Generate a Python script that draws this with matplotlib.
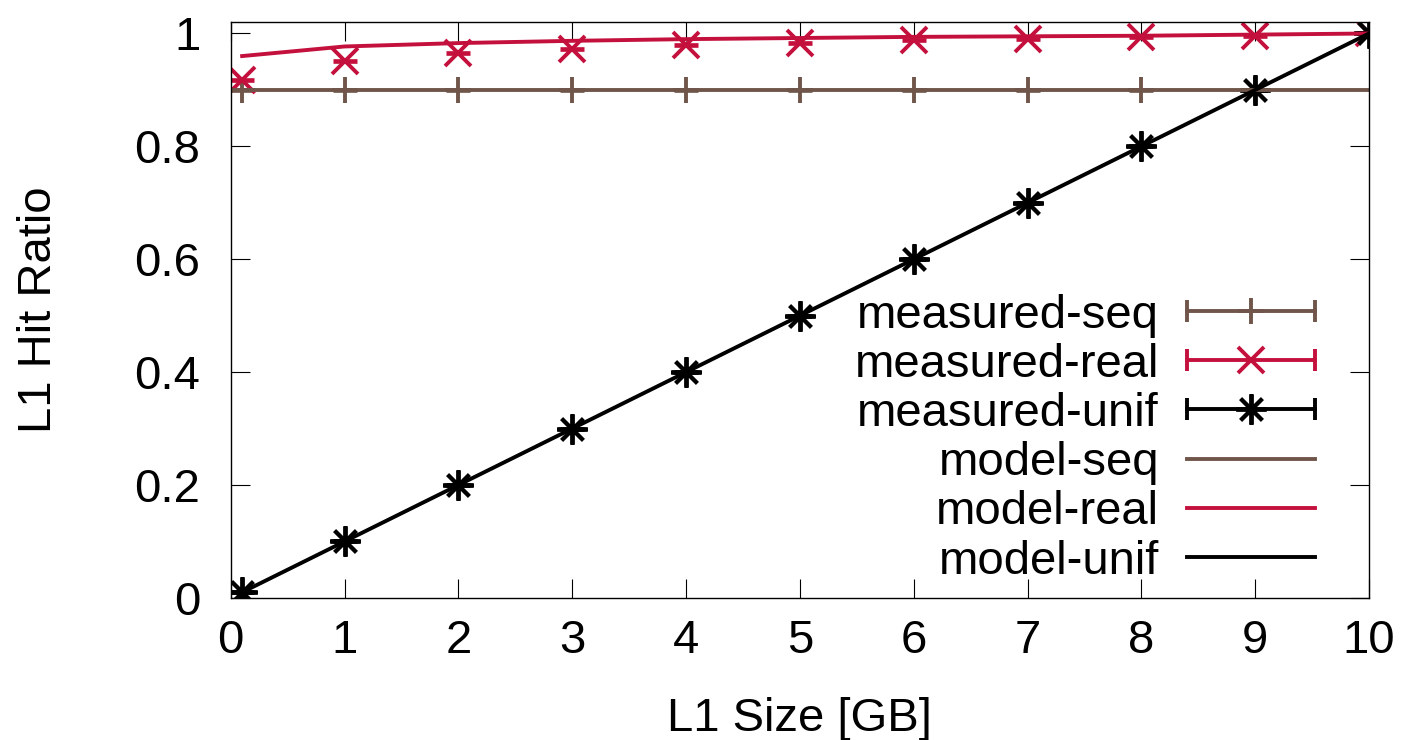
import matplotlib
matplotlib.use("Agg")
import matplotlib.pyplot as plt
from matplotlib.lines import Line2D
from matplotlib.legend_handler import HandlerLine2D, HandlerTuple

plt.rcParams['font.family'] = ['Liberation Sans', 'DejaVu Sans']

brown = '#70564a'
red = '#c4103c'
black = '#000000'

# L1 size [GB]
sizes = [0.1, 1, 2, 3, 4, 5, 6, 7, 8, 9, 10]

measured_seq = [0.9, 0.9, 0.9, 0.9, 0.9, 0.9, 0.9, 0.9, 0.9, 0.9]
measured_real = [0.917, 0.952, 0.966, 0.973, 0.979, 0.984, 0.989, 0.991, 0.994, 0.995, 1.0]
measured_unif = [0.01, 0.1, 0.2, 0.3, 0.4, 0.5, 0.6, 0.7, 0.8, 0.9, 1.0]

model_seq_x = [0, 10]
model_seq = [0.9, 0.9]
model_real = [0.960, 0.977, 0.983, 0.987, 0.990, 0.992, 0.994, 0.995, 0.996, 0.998, 1.0]
model_unif = [0.01, 0.1, 0.2, 0.3, 0.4, 0.5, 0.6, 0.7, 0.8, 0.9, 1.0]

fig = plt.figure(figsize=(14.07, 7.4), dpi=100)
ax = fig.add_axes([0.164, 0.192, 0.809, 0.778])

fs = 34
lw = 2.8
ms = 19
capw = 17

def measured(xs, ys, c, m, size):
    # zero-height error bar: a horizontal cap under the point marker
    ax.plot(xs, ys, ls='none', marker='_', ms=capw, mew=lw * 1.2, color=c)
    ax.plot(xs, ys, ls='none', marker=m, ms=size, mew=lw, color=c)

measured(sizes[:len(measured_seq)], measured_seq, brown, '+', ms)
measured(sizes, measured_real, red, 'x', ms)
measured(sizes, measured_unif, black, (8, 2, 0), ms + 3)

ax.plot(model_seq_x, model_seq, color=brown, lw=lw)
ax.plot(sizes, model_real, color=red, lw=lw)
ax.plot(sizes, model_unif, color=black, lw=lw)

ax.set_xlim(0, 10)
ax.set_ylim(0, 1.02)
ax.set_xticks(range(0, 11))
ax.set_yticks([0, 0.2, 0.4, 0.6, 0.8, 1])
ax.set_yticklabels(['0', '0.2', '0.4', '0.6', '0.8', '1'])
ax.tick_params(direction='in', length=14, width=0.8, top=True, right=True,
               labelsize=fs)
ax.tick_params(axis='y', pad=22)
ax.tick_params(axis='x', pad=15)
for s in ax.spines.values():
    s.set_linewidth(1.0)

ax.set_xlabel('L1 Size [GB]', fontsize=fs, labelpad=25)
ax.set_ylabel('L1 Hit Ratio', fontsize=fs, labelpad=53)

# legend handles, gnuplot style: line with end caps and marker in the middle
handles = []
hmap = {}
for c, m, s in [(brown, '+', ms), (red, 'x', ms), (black, (8, 2, 0), ms + 3)]:
    caps = Line2D([], [], color=c, lw=lw, marker='|', ms=16, mew=lw)
    mid = Line2D([], [], color=c, ls='none', marker=m, ms=s, mew=lw)
    hmap[caps] = HandlerLine2D(numpoints=2, marker_pad=0)
    handles.append((caps, mid))
for c in [brown, red, black]:
    handles.append(Line2D([], [], color=c, lw=lw))
for h in handles[:3]:
    hmap[h] = HandlerTuple(ndivide=1, pad=0)

labels = ['measured-seq', 'measured-real', 'measured-unif',
          'model-seq', 'model-real', 'model-unif']
ax.legend(handles, labels, handler_map=hmap, loc='lower right',
          bbox_to_anchor=(0.9525, 0.025), frameon=False, fontsize=fs,
          markerfirst=False, handlelength=2.7, handletextpad=0.6,
          labelspacing=0.11, borderpad=0, borderaxespad=0)

plt.savefig('out.png', dpi=100)
